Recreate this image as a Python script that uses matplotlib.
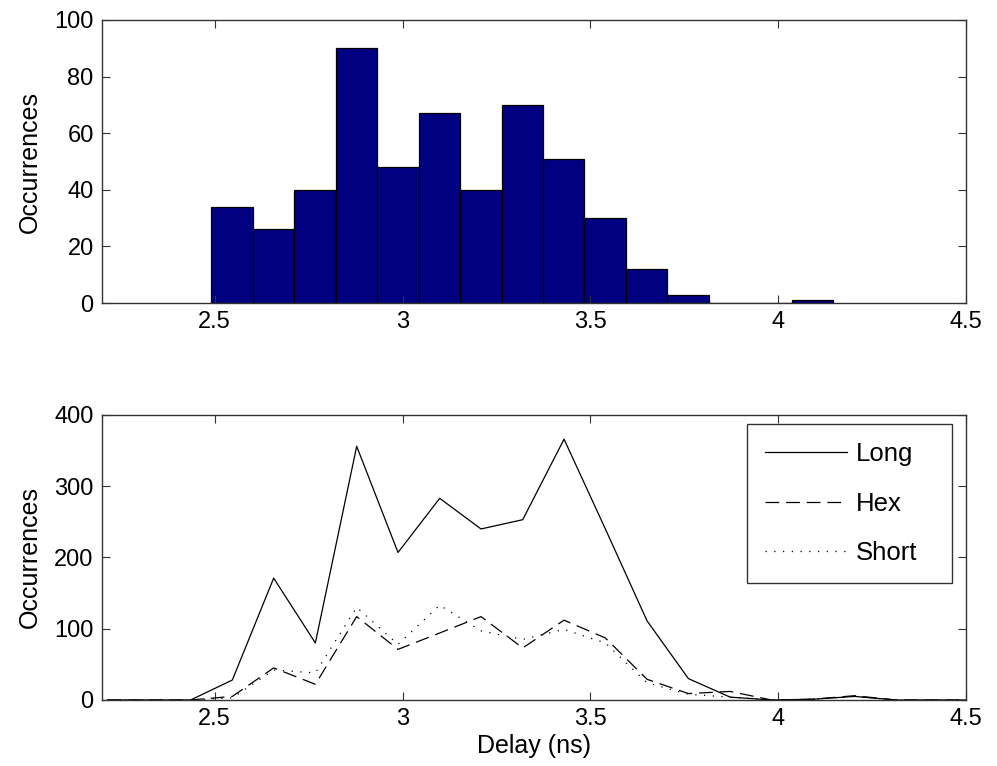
import matplotlib
matplotlib.use("Agg")
import matplotlib.pyplot as plt

plt.rcParams["font.family"] = ["Liberation Sans", "DejaVu Sans"]

# histogram bins (edges of the 15 bins), counts per bin
bin_edges = [2.491, 2.601, 2.712, 2.822, 2.932, 3.043, 3.153, 3.264,
             3.374, 3.484, 3.595, 3.705, 3.815, 3.926, 4.036, 4.146]
counts = [34, 26, 40, 90, 48, 67, 40, 70, 51, 30, 12, 3, 0, 0, 1]

# bottom panel: occurrences per delay bin for each layout
delay = [2.215, 2.326, 2.436, 2.547, 2.657, 2.768, 2.878, 2.988, 3.099,
         3.209, 3.320, 3.430, 3.540, 3.651, 3.761, 3.872, 3.982, 4.092,
         4.203, 4.313, 4.424, 4.534]
long_occ = [0, 0, 0, 28, 171, 80, 356, 207, 283, 240, 253, 366, 240, 111,
            30, 4, 0, 1, 5, 0, 0, 0]
hex_occ = [0, 0, 0, 5, 45, 22, 117, 71, 94, 117, 73, 112, 87, 29,
           9, 12, 0, 1, 6, 0, 0, 0]
short_occ = [0, 0, 0, 3, 42, 38, 130, 78, 133, 97, 85, 99, 80, 24,
             8, 4, 0, 1, 5, 0, 0, 0]

x_ticks = [2.5, 3, 3.5, 4, 4.5]
x_labels = ["2.5", "3", "3.5", "4", "4.5"]

TICK_FS = 17
LABEL_FS = 18
LEG_FS = 18.5
AX_COLOR = "#333333"

fig = plt.figure(figsize=(9.97, 7.66), dpi=100)
ax1 = fig.add_axes([0.1023, 0.6044, 0.8666, 0.3695])
ax2 = fig.add_axes([0.1023, 0.0862, 0.8666, 0.3721])


def style_axes(ax):
    for sp in ax.spines.values():
        sp.set_color(AX_COLOR)
        sp.set_linewidth(1.0)
    ax.tick_params(direction="in", top=True, right=True, length=6,
                   width=0.8, color=AX_COLOR, labelsize=TICK_FS, pad=6)
    ax.set_xlim(2.2, 4.5)
    ax.set_xticks(x_ticks)
    ax.set_xticklabels(x_labels)
    ax.set_ylabel("Occurrences", fontsize=LABEL_FS, labelpad=9)


# top: histogram
widths = [bin_edges[i + 1] - bin_edges[i] for i in range(len(counts))]
ax1.bar(bin_edges[:-1], counts, width=widths, align="edge",
        color="#000080", edgecolor="black", linewidth=0.9)
style_axes(ax1)
ax1.set_ylim(0, 100)
ax1.set_yticks([0, 20, 40, 60, 80, 100])

# bottom: lines
ax2.plot(delay, long_occ, color="black", lw=0.9, ls="-", label="Long")
ax2.plot(delay, hex_occ, color="black", lw=0.9, ls=(0, (11, 5.5)), label="Hex")
ax2.plot(delay, short_occ, color="black", lw=0.9, ls=(0, (1, 6)), label="Short")
style_axes(ax2)
ax2.set_ylim(0, 400)
ax2.set_yticks([0, 100, 200, 300, 400])
ax2.set_xlabel("Delay (ns)", fontsize=LABEL_FS, labelpad=3)

leg = ax2.legend(loc="upper left", fontsize=LEG_FS, frameon=True, fancybox=False,
                 handlelength=3.2, handletextpad=0.35, labelspacing=1.0,
                 borderpad=0.7, borderaxespad=0.0, mode="expand",
                 bbox_to_anchor=(0.7465, 0.4175, 0.2373, 0.551))
leg.get_frame().set_edgecolor("black")
leg.get_frame().set_linewidth(1.0)

fig.savefig("out.png", dpi=100)
